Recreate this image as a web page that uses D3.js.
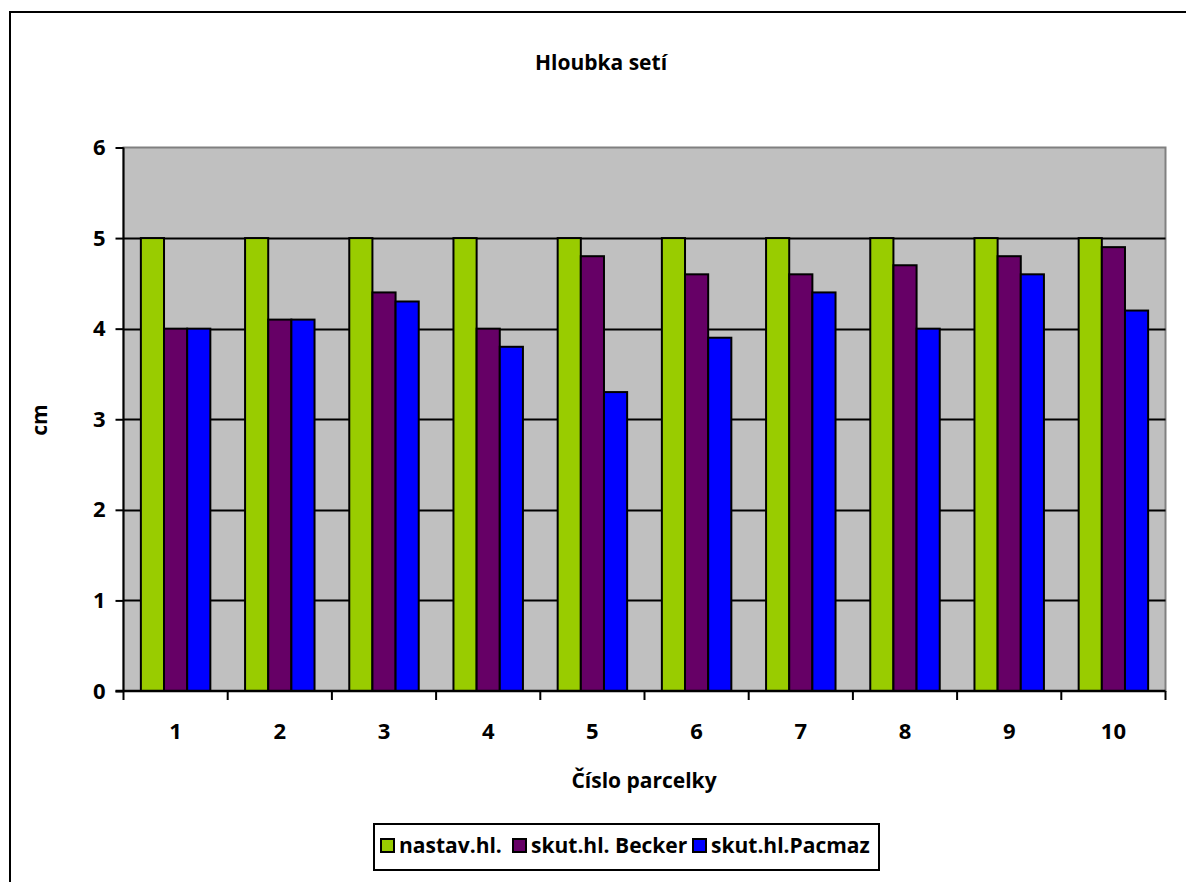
<!DOCTYPE html>
<html>
<head>
<meta charset="utf-8">
<script src="https://cdn.jsdelivr.net/npm/d3@7"></script>
<style>
  html, body { margin: 0; padding: 0; background: #fff; }
  svg { display: block; }
  text { font-family: "Open Sans", "Noto Sans", sans-serif; font-weight: bold; fill: #000; }
</style>
</head>
<body>
<svg id="chart" width="1186" height="882"></svg>
<script>
// Plot numbers (čísla parcelek)
const categories = ["1", "2", "3", "4", "5", "6", "7", "8", "9", "10"];
// Series names as shown in the legend
const seriesNames = ["nastav.hl.", "skut.hl. Becker", "skut.hl.Pacmaz"];
// Depth values in cm
const nastav = [5, 5, 5, 5, 5, 5, 5, 5, 5, 5];
const becker = [4.0, 4.1, 4.4, 4.0, 4.8, 4.6, 4.6, 4.7, 4.8, 4.9];
const pacmaz = [4.0, 4.1, 4.3, 3.8, 3.3, 3.9, 4.4, 4.0, 4.6, 4.2];
const yTicks = [0, 1, 2, 3, 4, 5, 6];
const colors = ["#99cc00", "#660066", "#0000ff"];

const seriesValues = [nastav, becker, pacmaz];
const svg = d3.select("#chart");
const tickFS = "22px";

// Outer chart frame (extends past the right and bottom edges)
svg.append("rect")
  .attr("x", 10).attr("y", 12).attr("width", 1200).attr("height", 900)
  .attr("fill", "#fff").attr("stroke", "#000").attr("stroke-width", 2);

const plot = { left: 123.5, top: 147.5, right: 1165.5, bottom: 691 };

const x = d3.scaleBand().domain(categories).range([plot.left, plot.right]).paddingInner(0).paddingOuter(0);
const y = d3.scaleLinear().domain([0, 6]).range([plot.bottom, plot.top]);
const groupW = x.bandwidth();
const barW = groupW / 4.5;
const xs = d3.scaleBand().domain(d3.range(seriesValues.length)).range([barW * 0.75, groupW - barW * 0.75]).padding(0);

// Plot area background
svg.append("rect")
  .attr("x", plot.left).attr("y", plot.top)
  .attr("width", plot.right - plot.left).attr("height", plot.bottom - plot.top)
  .attr("fill", "#c0c0c0").attr("stroke", "#808080").attr("stroke-width", 2);

// Horizontal gridlines
svg.append("g").selectAll("line").data(yTicks.filter(t => t > 0 && t < 6)).join("line")
  .attr("x1", plot.left).attr("x2", plot.right)
  .attr("y1", d => Math.round(y(d)) + 0.5).attr("y2", d => Math.round(y(d)) + 0.5)
  .attr("stroke", "#000").attr("stroke-width", 2);

// Bars
const groups = svg.append("g").selectAll("g").data(categories).join("g")
  .attr("transform", d => `translate(${x(d)},0)`);
groups.selectAll("rect").data((c, i) => seriesValues.map((vals, s) => ({ s, v: vals[i] }))).join("rect")
  .attr("x", d => xs(d.s))
  .attr("width", xs.bandwidth())
  .attr("y", d => y(d.v))
  .attr("height", d => y(0) - y(d.v))
  .attr("fill", d => colors[d.s])
  .attr("stroke", "#000").attr("stroke-width", 2);

// Y axis
const yAxis = d3.axisLeft(y).tickValues(yTicks).tickSize(8).tickPadding(10).tickFormat(d3.format("d"));
const gy = svg.append("g").attr("transform", `translate(${plot.left},0)`).call(yAxis);
gy.select(".domain").attr("stroke", "#000").attr("stroke-width", 2).attr("d", `M0,${plot.top}V${plot.bottom}`);
gy.selectAll(".tick line").attr("stroke", "#000").attr("stroke-width", 2);
gy.selectAll(".tick text").style("font-size", tickFS).style("font-family", "'Open Sans', sans-serif").style("font-weight", "bold");

// X axis: ticks sit on category boundaries, labels at category centres
const gx = svg.append("g").attr("transform", `translate(0,${plot.bottom})`);
gx.append("line").attr("x1", plot.left - 8).attr("x2", plot.right).attr("y1", 0).attr("y2", 0)
  .attr("stroke", "#000").attr("stroke-width", 2.5);
const boundaries = categories.map(c => x(c)).concat([plot.right]);
gx.selectAll("line.tk").data(boundaries).join("line").attr("class", "tk")
  .attr("x1", d => d).attr("x2", d => d).attr("y1", 0).attr("y2", 9)
  .attr("stroke", "#000").attr("stroke-width", 2);
gx.selectAll("text").data(categories).join("text")
  .attr("x", d => x(d) + groupW / 2).attr("y", 48)
  .attr("text-anchor", "middle").style("font-size", tickFS).text(d => d);

// Titles
svg.append("text").attr("x", 601).attr("y", 70).attr("text-anchor", "middle")
  .style("font-size", "21px").text("Hloubka setí");
svg.append("text").attr("x", 644).attr("y", 788).attr("text-anchor", "middle")
  .style("font-size", "21px").text("Číslo parcelky");
svg.append("text").attr("transform", "translate(47,420) rotate(-90)").attr("text-anchor", "middle")
  .style("font-size", "21px").text("cm");

// Legend
const legend = svg.append("g");
legend.append("rect").attr("x", 374).attr("y", 824).attr("width", 505).attr("height", 46)
  .attr("fill", "#fff").attr("stroke", "#000").attr("stroke-width", 2);
const legendX = [381, 513, 693];
const items = legend.selectAll("g").data(seriesNames).join("g")
  .attr("transform", (d, i) => `translate(${legendX[i]},839)`);
items.append("rect").attr("x", 0).attr("y", 0).attr("width", 13).attr("height", 13)
  .attr("fill", (d, i) => colors[i]).attr("stroke", "#000").attr("stroke-width", 2);
items.append("text").attr("x", 18).attr("y", 14).style("font-size", "21px").text(d => d);
</script>
</body>
</html>
